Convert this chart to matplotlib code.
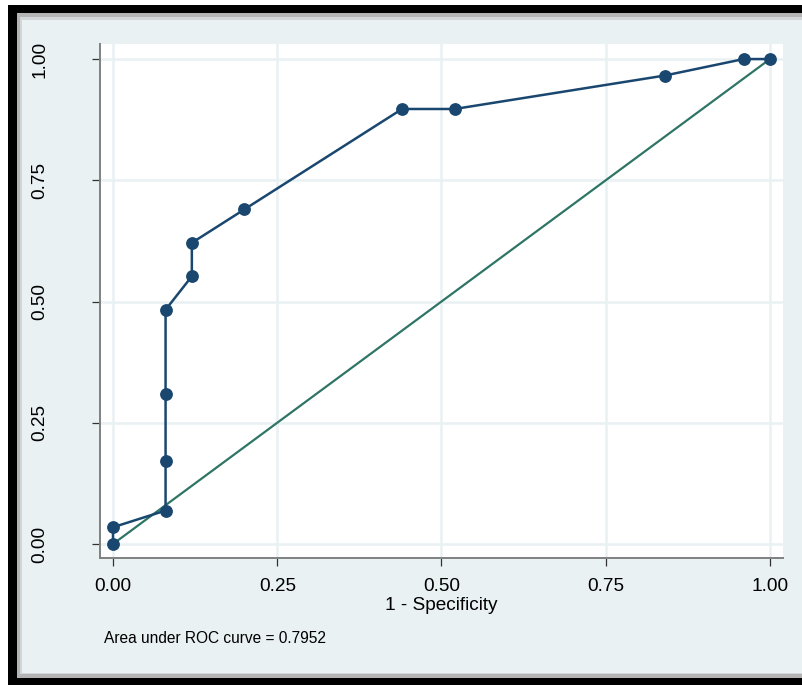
import matplotlib
matplotlib.use("Agg")
import matplotlib.pyplot as plt
from matplotlib.patches import Rectangle

plt.rcParams["font.family"] = ["Liberation Sans", "DejaVu Sans"]

# ROC points (1 - specificity, sensitivity)
fpr = [0.0, 0.0, 0.08, 0.08, 0.08, 0.08, 0.12, 0.12, 0.20, 0.44, 0.52, 0.84, 0.96, 1.0]
tpr = [0.0, 0.0345, 0.069, 0.172, 0.310, 0.483, 0.552, 0.621, 0.690, 0.897, 0.897, 0.966, 1.0, 1.0]
ticks = [0.0, 0.25, 0.5, 0.75, 1.0]
tick_labels = ["0.00", "0.25", "0.50", "0.75", "1.00"]
auc_text = "Area under ROC curve = 0.7952"

W, H = 803, 685
fig = plt.figure(figsize=(W / 100, H / 100), dpi=100)
fig.patch.set_facecolor("white")


def box(x, y, w, h, color):
    # rectangle given in image pixels (top-left origin)
    fig.add_artist(Rectangle((x / W, 1 - (y + h) / H), w / W, h / H,
                             transform=fig.transFigure, facecolor=color,
                             edgecolor="none", zorder=0))


# outer frame
box(8, 5, W - 8, H - 5, "black")
box(17, 13, W - 17, 665, "#b4b4b4")
box(20, 17, W - 20, 657, "#d3d6d8")
box(22, 20, W - 22, 653, "#e9f1f3")

ax = fig.add_axes([100 / W, 1 - 558 / H, 683 / W, 514 / H])
ax.set_facecolor("white")

ax.plot([0, 1], [0, 1], color="#2e7565", lw=1.6, zorder=3)
ax.plot(fpr, tpr, color="#1a476f", lw=1.8, marker="o", markersize=8.2, zorder=4)

ax.set_xlim(-0.0198, 1.0198)
ax.set_ylim(-0.0289, 1.031)
ax.set_xticks(ticks)
ax.set_xticklabels(tick_labels)
ax.set_yticks(ticks)
ax.set_yticklabels(tick_labels, rotation=90, va="center")
ax.grid(True, color="#e9f1f3", lw=1.8)
ax.set_axisbelow(True)

for s in ["top", "right"]:
    ax.spines[s].set_visible(False)
for s in ["left", "bottom"]:
    ax.spines[s].set_color("#808080")
    ax.spines[s].set_linewidth(1.4)

ax.tick_params(axis="x", length=6, width=0.9, color="#333333", labelsize=13.7, pad=8.5)
ax.tick_params(axis="y", length=6, width=0.9, color="#333333", labelsize=13.7, pad=31)

ax.set_xlabel("1 - Specificity", fontsize=13.7, labelpad=1.5)
fig.text(104 / W, 1 - 643 / H, auc_text, fontsize=11.2, ha="left", va="baseline")

fig.savefig("out.png", dpi=100)
